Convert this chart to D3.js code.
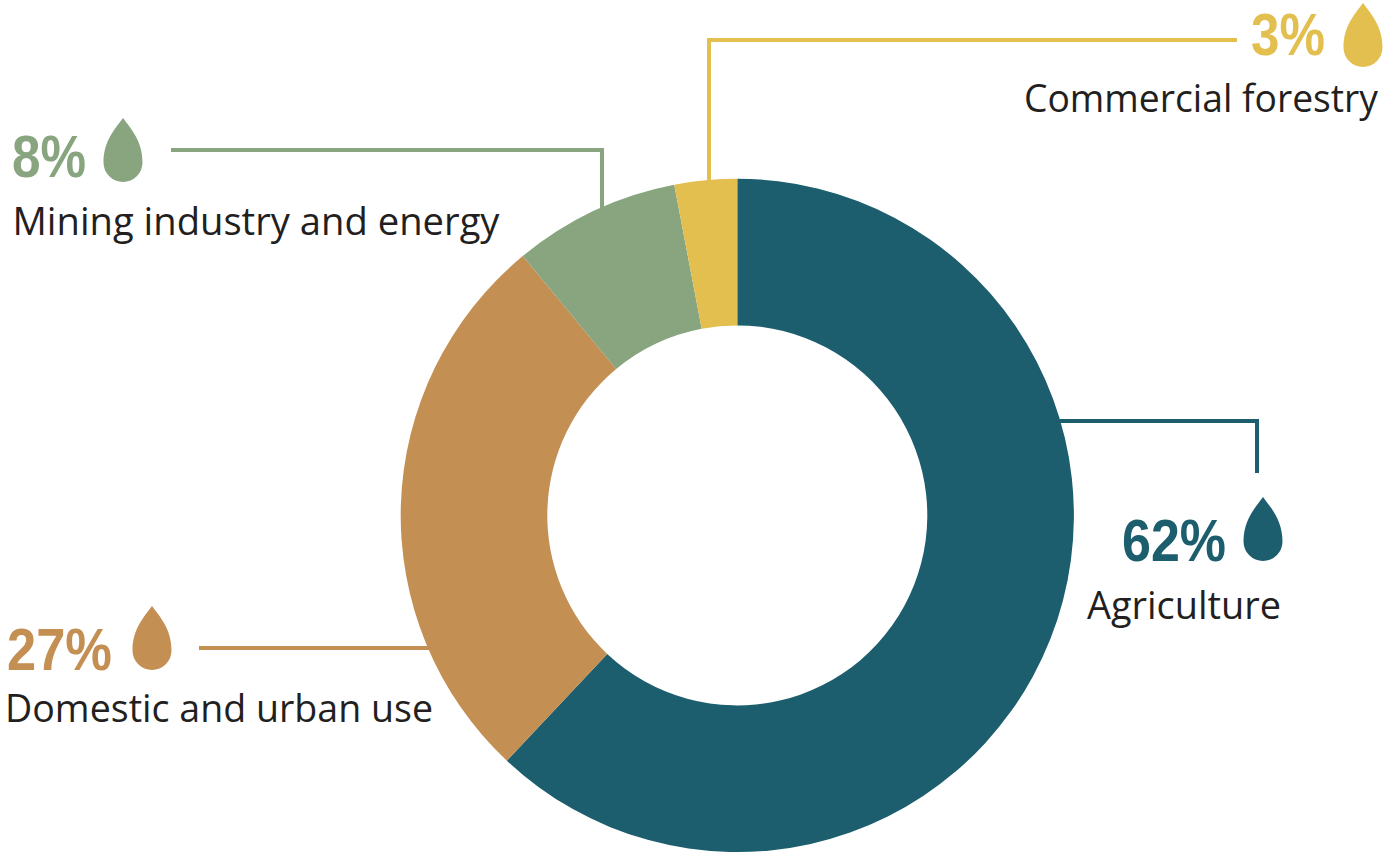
<!DOCTYPE html>
<html><head><meta charset="utf-8">
<script src="https://cdn.jsdelivr.net/npm/d3@7/dist/d3.min.js"></script>
<style>html,body{margin:0;padding:0;background:#fff}svg{display:block}</style>
</head><body><svg id="c" width="1384" height="854"></svg>
<script>
const categories = ["Agriculture","Domestic and urban use","Mining industry and energy","Commercial forestry"];
const values = [62,27,8,3];
const colors = ["#1c5e6e","#c48f52","#88a57f","#e3bf4f"];
const pctPos = [[1226,561],[112,670],[86,177],[1325,55]];
const pctWidth = [104,105,74,74];
const namePos = [[1184,619],[219,722],[256,235],[1201,112]];
const nameWidth = [194,428,487,354];
const dropPos = [[1263,529],[152,638],[123,150],[1363,35]];
const leaders = [
  [[1060,421],[1257,421],[1257,473]],
  [[430,648],[199,648]],
  [[602,209],[602,150],[171,150]],
  [[709,181],[709,40],[1237,40]]
];
const svg = d3.select("#c");
const cx = 737.3, cy = 515.4, rOuter = 336.6, rInner = 190;
const pie = d3.pie().sort(null).value(d=>d)(values);
const arc = d3.arc().innerRadius(rInner).outerRadius(rOuter);
const line = d3.line();
// leader lines run beneath the ring
svg.selectAll("path.leader").data(leaders).join("path").attr("class","leader")
  .attr("d",d=>line(d)).attr("fill","none").attr("stroke-width",4)
  .attr("stroke",(d,i)=>colors[i]);
svg.append("g").attr("transform",`translate(${cx},${cy})`)
  .selectAll("path").data(pie).join("path").attr("d",arc).attr("fill",(d,i)=>colors[i]);
// water drop glyph centred on its anchor
const drop = "M0,-32 C8,-21 19.5,-9 19.5,12.5 A19.5,19.5 0 0 1 -19.5,12.5 C-19.5,-9 -8,-21 0,-32 Z";
svg.selectAll("path.drop").data(dropPos).join("path").attr("class","drop")
  .attr("d",drop).attr("transform",d=>`translate(${d[0]},${d[1]})`)
  .attr("fill",(d,i)=>colors[i]);
svg.selectAll("text.pct").data(values).join("text").attr("class","pct")
  .attr("x",(d,i)=>pctPos[i][0]).attr("y",(d,i)=>pctPos[i][1])
  .attr("text-anchor","end").attr("fill",(d,i)=>colors[i])
  .attr("font-family","'Liberation Sans'").attr("font-weight",700).attr("font-size",60)
  .attr("textLength",(d,i)=>pctWidth[i]).attr("lengthAdjust","spacingAndGlyphs")
  .text(d=>d+"%");
svg.selectAll("text.name").data(categories).join("text").attr("class","name")
  .attr("x",(d,i)=>namePos[i][0]).attr("y",(d,i)=>namePos[i][1])
  .attr("text-anchor","middle").attr("fill","#231f20")
  .attr("font-family","'Open Sans'").attr("font-size",38)
  .attr("textLength",(d,i)=>nameWidth[i]).attr("lengthAdjust","spacingAndGlyphs")
  .text(d=>d);
</script></body></html>
